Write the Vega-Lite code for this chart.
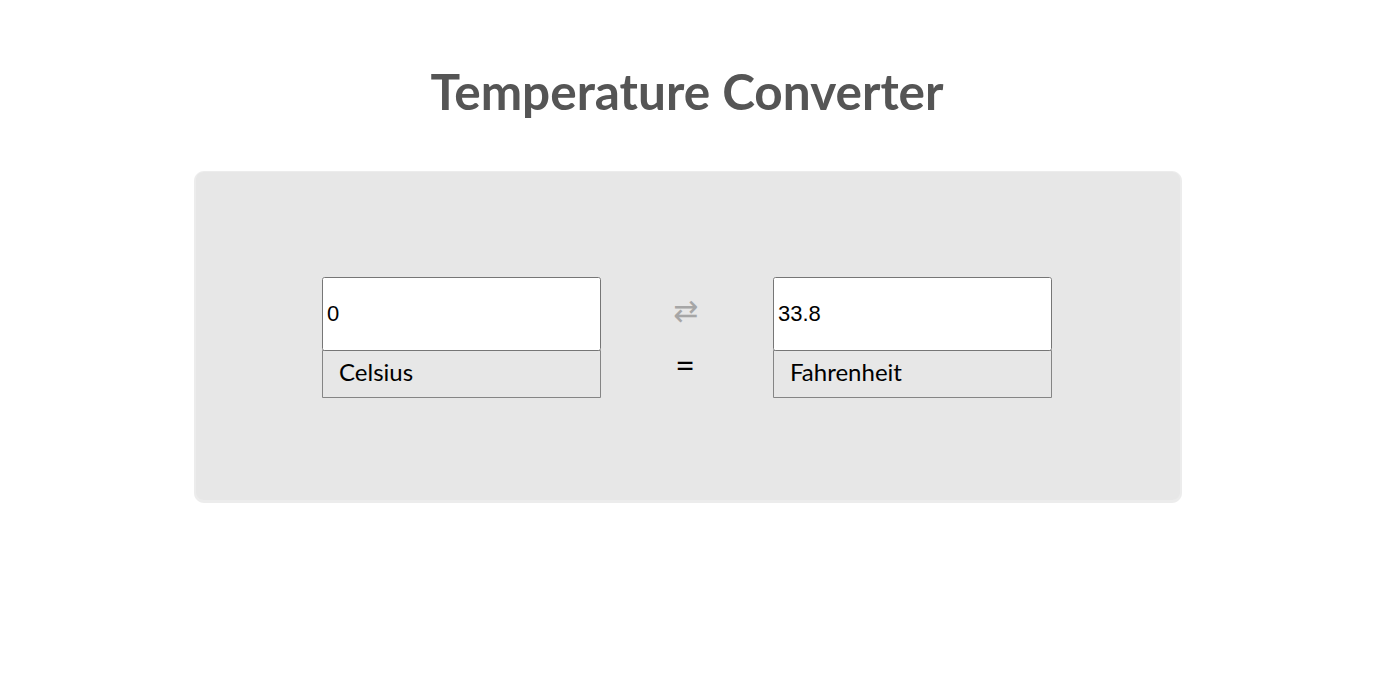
{
  "$schema": "https://vega.github.io/schema/vega-lite/v6.json",
  "width": 1378,
  "height": 683,
  "autosize": {"type": "fit", "contains": "padding"},
  "padding": 0,
  "background": "#ffffff",
  "config": {"view": {"stroke": null}},
  "datasets": {
    "boxes": [
      {"name": "shadow", "x": 194, "x2": 1182, "y": 171, "y2": 503},
      {"name": "panel", "x": 196, "x2": 1180, "y": 172, "y2": 500},
      {"name": "celsius_input", "x": 322.5, "x2": 600.5, "y": 277.5, "y2": 350.5},
      {"name": "fahrenheit_input", "x": 773.5, "x2": 1051.5, "y": 277.5, "y2": 350.5},
      {"name": "celsius_label", "x": 322.5, "x2": 600.5, "y": 350.5, "y2": 397.5},
      {"name": "fahrenheit_label", "x": 773.5, "x2": 1051.5, "y": 350.5, "y2": 397.5}
    ],
    "texts": [
      {"role": "title", "x": 687, "y": 95, "text": "Temperature Converter"},
      {"role": "value", "x": 327, "y": 314, "text": "0"},
      {"role": "value", "x": 778, "y": 314, "text": "33.8"},
      {"role": "unit", "x": 339, "y": 374, "text": "Celsius"},
      {"role": "unit", "x": 790, "y": 374, "text": "Fahrenheit"},
      {"role": "swap", "x": 686, "y": 312, "text": "⇄"},
      {"role": "equals", "x": 685, "y": 368, "text": "="}
    ]
  },
  "encoding": {
    "x": {"field": "x", "type": "quantitative", "scale": {"domain": [0, 1378], "nice": false, "zero": false}, "axis": null},
    "y": {"field": "y", "type": "quantitative", "scale": {"domain": [0, 683], "reverse": true, "nice": false, "zero": false}, "axis": null}
  },
  "layer": [
    {
      "data": {"name": "boxes"},
      "transform": [{"filter": "datum.name === 'shadow'"}],
      "mark": {"type": "rect", "cornerRadius": 10, "fill": "#e0e0e0", "opacity": 0.6},
      "encoding": {"x2": {"field": "x2"}, "y2": {"field": "y2"}}
    },
    {
      "data": {"name": "boxes"},
      "transform": [{"filter": "datum.name === 'panel'"}],
      "mark": {"type": "rect", "cornerRadius": 8, "fill": "#e7e7e7"},
      "encoding": {"x2": {"field": "x2"}, "y2": {"field": "y2"}}
    },
    {
      "data": {"name": "boxes"},
      "transform": [{"filter": "indexof(datum.name, 'label') >= 0"}],
      "mark": {"type": "rect", "fill": "#e7e7e7", "stroke": "#858585", "strokeWidth": 1},
      "encoding": {"x2": {"field": "x2"}, "y2": {"field": "y2"}}
    },
    {
      "data": {"name": "boxes"},
      "transform": [{"filter": "indexof(datum.name, 'input') >= 0"}],
      "mark": {"type": "rect", "cornerRadius": 2, "fill": "#ffffff", "stroke": "#767676", "strokeWidth": 1},
      "encoding": {"x2": {"field": "x2"}, "y2": {"field": "y2"}}
    },
    {
      "data": {"name": "texts"},
      "transform": [{"filter": "datum.role === 'title'"}],
      "mark": {"type": "text", "font": "Lato", "fontWeight": "bold", "fontSize": 49.5, "fill": "#555555", "align": "center", "baseline": "middle"},
      "encoding": {"text": {"field": "text"}}
    },
    {
      "data": {"name": "texts"},
      "transform": [{"filter": "datum.role === 'value'"}],
      "mark": {"type": "text", "font": "Liberation Sans", "fontSize": 22, "fill": "#000000", "align": "left", "baseline": "middle"},
      "encoding": {"text": {"field": "text"}}
    },
    {
      "data": {"name": "texts"},
      "transform": [{"filter": "datum.role === 'unit'"}],
      "mark": {"type": "text", "font": "Lato", "fontSize": 24, "fill": "#000000", "align": "left", "baseline": "middle"},
      "encoding": {"text": {"field": "text"}}
    },
    {
      "data": {"name": "texts"},
      "transform": [{"filter": "datum.role === 'swap'"}],
      "mark": {"type": "text", "font": "DejaVu Sans", "fontSize": 30, "fill": "#a6a6a6", "align": "center", "baseline": "middle"},
      "encoding": {"text": {"field": "text"}}
    },
    {
      "data": {"name": "texts"},
      "transform": [{"filter": "datum.role === 'equals'"}],
      "mark": {"type": "text", "font": "Lato", "fontSize": 34, "fill": "#000000", "align": "center", "baseline": "middle"},
      "encoding": {"text": {"field": "text"}}
    }
  ]
}
